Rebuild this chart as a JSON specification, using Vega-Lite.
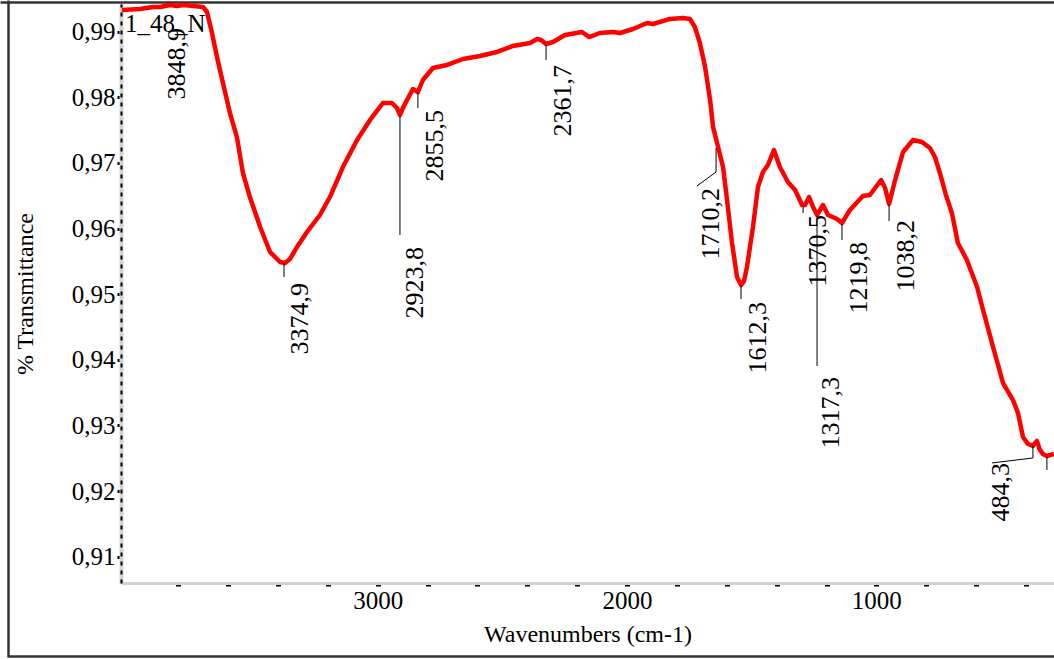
{
  "$schema": "https://vega.github.io/schema/vega-lite/v6.json",
  "width": 933,
  "height": 579,
  "autosize": {"type": "none"},
  "padding": {"left": 121, "top": 4, "right": 0, "bottom": 76},
  "background": "white",
  "config": {
    "font": "Liberation Serif",
    "view": {"stroke": null},
    "axis": {"grid": false, "labelColor": "black", "titleColor": "black", "titleFontWeight": "normal", "labelFont": "Liberation Serif", "titleFont": "Liberation Serif"},
    "text": {"font": "Liberation Serif"}
  },
  "datasets": {
    "spectrum": [
      {"wn": 4026, "t": 0.99331}, {"wn": 3954, "t": 0.99346}, {"wn": 3902, "t": 0.99376}, {"wn": 3874, "t": 0.99376},
      {"wn": 3833, "t": 0.99407}, {"wn": 3805, "t": 0.99391}, {"wn": 3781, "t": 0.99407}, {"wn": 3741, "t": 0.99391},
      {"wn": 3701, "t": 0.99376}, {"wn": 3685, "t": 0.993}, {"wn": 3665, "t": 0.9898}, {"wn": 3645, "t": 0.98614},
      {"wn": 3621, "t": 0.98218}, {"wn": 3593, "t": 0.97761}, {"wn": 3565, "t": 0.97395}, {"wn": 3541, "t": 0.96847},
      {"wn": 3513, "t": 0.96481}, {"wn": 3472, "t": 0.96024}, {"wn": 3432, "t": 0.95643}, {"wn": 3392, "t": 0.95491},
      {"wn": 3372, "t": 0.95476}, {"wn": 3352, "t": 0.95537}, {"wn": 3324, "t": 0.9572}, {"wn": 3284, "t": 0.95948},
      {"wn": 3232, "t": 0.96207}, {"wn": 3192, "t": 0.96481}, {"wn": 3140, "t": 0.96938}, {"wn": 3083, "t": 0.9735},
      {"wn": 3031, "t": 0.97655}, {"wn": 2979, "t": 0.97914}, {"wn": 2943, "t": 0.97914}, {"wn": 2923, "t": 0.97837},
      {"wn": 2911, "t": 0.97731}, {"wn": 2899, "t": 0.97837}, {"wn": 2883, "t": 0.97959}, {"wn": 2859, "t": 0.98127},
      {"wn": 2839, "t": 0.98081}, {"wn": 2819, "t": 0.98264}, {"wn": 2779, "t": 0.98447}, {"wn": 2722, "t": 0.98493},
      {"wn": 2658, "t": 0.98584}, {"wn": 2590, "t": 0.9863}, {"wn": 2522, "t": 0.98691}, {"wn": 2458, "t": 0.98783},
      {"wn": 2389, "t": 0.98828}, {"wn": 2361, "t": 0.98889}, {"wn": 2345, "t": 0.98874}, {"wn": 2325, "t": 0.98813},
      {"wn": 2297, "t": 0.98843}, {"wn": 2249, "t": 0.9895}, {"wn": 2181, "t": 0.98995}, {"wn": 2153, "t": 0.98919},
      {"wn": 2109, "t": 0.9898}, {"wn": 2056, "t": 0.98995}, {"wn": 2028, "t": 0.9898}, {"wn": 1976, "t": 0.99041},
      {"wn": 1920, "t": 0.99133}, {"wn": 1896, "t": 0.99117}, {"wn": 1828, "t": 0.99194}, {"wn": 1776, "t": 0.99209},
      {"wn": 1748, "t": 0.99194}, {"wn": 1728, "t": 0.99072}, {"wn": 1708, "t": 0.98828}, {"wn": 1687, "t": 0.98462},
      {"wn": 1667, "t": 0.97959}, {"wn": 1655, "t": 0.97548}, {"wn": 1639, "t": 0.97304}, {"wn": 1627, "t": 0.97121},
      {"wn": 1615, "t": 0.96938}, {"wn": 1599, "t": 0.96435}, {"wn": 1579, "t": 0.9578}, {"wn": 1559, "t": 0.95262},
      {"wn": 1543, "t": 0.9514}, {"wn": 1531, "t": 0.95201}, {"wn": 1519, "t": 0.95415}, {"wn": 1495, "t": 0.96024},
      {"wn": 1475, "t": 0.96634}, {"wn": 1455, "t": 0.96862}, {"wn": 1435, "t": 0.96969}, {"wn": 1411, "t": 0.97197},
      {"wn": 1387, "t": 0.96938}, {"wn": 1355, "t": 0.9671}, {"wn": 1326, "t": 0.96588}, {"wn": 1298, "t": 0.96359},
      {"wn": 1286, "t": 0.96359}, {"wn": 1270, "t": 0.96481}, {"wn": 1254, "t": 0.96329}, {"wn": 1238, "t": 0.96207},
      {"wn": 1226, "t": 0.96283}, {"wn": 1214, "t": 0.96359}, {"wn": 1194, "t": 0.96207}, {"wn": 1158, "t": 0.96146},
      {"wn": 1138, "t": 0.96085}, {"wn": 1106, "t": 0.96283}, {"wn": 1054, "t": 0.96496}, {"wn": 1026, "t": 0.96512},
      {"wn": 981, "t": 0.9674}, {"wn": 965, "t": 0.96618}, {"wn": 949, "t": 0.96374}, {"wn": 925, "t": 0.9674},
      {"wn": 893, "t": 0.97167}, {"wn": 853, "t": 0.9735}, {"wn": 817, "t": 0.97319}, {"wn": 785, "t": 0.97228},
      {"wn": 765, "t": 0.97091}, {"wn": 745, "t": 0.96847}, {"wn": 721, "t": 0.96512}, {"wn": 697, "t": 0.96237},
      {"wn": 673, "t": 0.9578}, {"wn": 637, "t": 0.95521}, {"wn": 596, "t": 0.9511}, {"wn": 572, "t": 0.94759},
      {"wn": 532, "t": 0.94196}, {"wn": 492, "t": 0.93647}, {"wn": 452, "t": 0.93388}, {"wn": 432, "t": 0.9319},
      {"wn": 412, "t": 0.92824}, {"wn": 392, "t": 0.92718}, {"wn": 372, "t": 0.92688}, {"wn": 356, "t": 0.92764},
      {"wn": 344, "t": 0.92627}, {"wn": 332, "t": 0.92566}, {"wn": 316, "t": 0.92535}, {"wn": 288, "t": 0.92566}
    ],
    "leaders": [
      {"wn": 3376, "wn2": 3376, "t": 0.95476, "t2": 0.95262},
      {"wn": 2911, "wn2": 2911, "t": 0.97715, "t2": 0.95902},
      {"wn": 2839, "wn2": 2839, "t": 0.98066, "t2": 0.97837},
      {"wn": 2325, "wn2": 2325, "t": 0.98797, "t2": 0.98569},
      {"wn": 1643, "wn2": 1643, "t": 0.97228, "t2": 0.96862},
      {"wn": 1643, "wn2": 1720, "t": 0.96862, "t2": 0.96649},
      {"wn": 1543, "wn2": 1543, "t": 0.95125, "t2": 0.94927},
      {"wn": 1294, "wn2": 1294, "t": 0.96329, "t2": 0.96238},
      {"wn": 1238, "wn2": 1238, "t": 0.96192, "t2": 0.93906},
      {"wn": 1138, "wn2": 1138, "t": 0.9607, "t2": 0.95826},
      {"wn": 949, "wn2": 949, "t": 0.96359, "t2": 0.96115},
      {"wn": 372, "wn2": 372, "t": 0.92688, "t2": 0.92505},
      {"wn": 372, "wn2": 536, "t": 0.92505, "t2": 0.92429},
      {"wn": 316, "wn2": 316, "t": 0.9252, "t2": 0.92322}
    ],
    "peaks": [
      {"wn": 3805, "t": 0.99056, "label": "3848,9"},
      {"wn": 3312, "t": 0.95171, "label": "3374,9"},
      {"wn": 2851, "t": 0.95719, "label": "2923,8"},
      {"wn": 2770, "t": 0.97807, "label": "2855,5"},
      {"wn": 2257, "t": 0.98493, "label": "2361,7"},
      {"wn": 1663, "t": 0.96618, "label": "1710,2"},
      {"wn": 1475, "t": 0.94881, "label": "1612,3"},
      {"wn": 1234, "t": 0.96207, "label": "1370,5"},
      {"wn": 1182, "t": 0.93738, "label": "1317,3"},
      {"wn": 1070, "t": 0.95795, "label": "1219,8"},
      {"wn": 881, "t": 0.9613, "label": "1038,2"},
      {"wn": 500, "t": 0.92429, "label": "484,3"}
    ],
    "sample": [{"wn": 4014, "t": 0.98995, "label": "1_48_N"}],
    "frame": [{"a": 0, "b": 0}, {"a": 1, "b": 1}]
  },
  "resolve": {"scale": {"x": "independent", "y": "independent"}, "axis": {"x": "independent", "y": "independent"}},
  "layer": [
    {
      "resolve": {"axis": {"x": "independent", "y": "independent"}},
      "layer": [
        {
          "data": {"name": "spectrum"},
          "mark": {"type": "line", "color": "#ff0000", "strokeWidth": 4.5, "strokeJoin": "round"},
          "encoding": {
            "x": {"field": "wn", "type": "quantitative", "scale": {"domain": [287.5, 4030], "reverse": true, "nice": false, "zero": false},
              "axis": {"orient": "bottom", "values": [400, 600, 800, 1000, 1200, 1400, 1600, 1800, 2000, 2200, 2400, 2600, 2800, 3000, 3200, 3400, 3600, 3800],
                "labelExpr": "datum.value % 1000 === 0 ? format(datum.value, 'd') : ''",
                "labelFont": "Liberation Serif", "labelFontSize": 25, "labelPadding": 2, "labelFlush": false, "labelOverlap": false,
                "domainColor": "#d3d3d3", "domainWidth": 3,
                "tickColor": "black", "tickSize": 3, "tickWidth": 5,
                "title": "Wavenumbers (cm-1)", "titleFont": "Liberation Serif", "titleFontSize": 24, "titleFontWeight": "normal", "titlePadding": 9}},
            "y": {"field": "t", "type": "quantitative", "scale": {"domain": [0.906, 0.99422], "nice": false, "zero": false},
              "axis": {"orient": "left", "values": [0.91, 0.92, 0.93, 0.94, 0.95, 0.96, 0.97, 0.98, 0.99],
                "labelExpr": "replace(format(datum.value, '.2f'), '.', ',')",
                "labelFont": "Liberation Serif", "labelFontSize": 25, "labelPadding": 2, "labelFlush": false, "labelOverlap": false,
                "domainColor": "#d3d3d3", "domainWidth": 4,
                "tickColor": "black", "tickSize": 4, "tickWidth": 3,
                "title": "% Transmittance", "titleFont": "Liberation Serif", "titleFontSize": 24, "titleFontWeight": "normal", "titlePadding": 34}}
          }
        },
        {
          "data": {"name": "leaders"},
          "mark": {"type": "rule", "color": "black", "strokeWidth": 1},
          "encoding": {
            "x": {"field": "wn", "type": "quantitative", "axis": null},
            "x2": {"field": "wn2"},
            "y": {"field": "t", "type": "quantitative", "axis": null},
            "y2": {"field": "t2"}
          }
        },
        {
          "data": {"name": "peaks"},
          "mark": {"type": "text", "angle": 270, "align": "right", "baseline": "middle", "fontSize": 26, "color": "black", "font": "Liberation Serif"},
          "encoding": {
            "x": {"field": "wn", "type": "quantitative", "axis": null},
            "y": {"field": "t", "type": "quantitative", "axis": null},
            "text": {"field": "label"}
          }
        },
        {
          "data": {"name": "sample"},
          "mark": {"type": "text", "align": "left", "baseline": "alphabetic", "fontSize": 25, "color": "black", "font": "Liberation Serif"},
          "encoding": {
            "x": {"field": "wn", "type": "quantitative", "axis": null},
            "y": {"field": "t", "type": "quantitative", "axis": null},
            "text": {"field": "label"}
          }
        },
        {
          "data": {"name": "spectrum"},
          "mark": {"type": "line", "opacity": 0},
          "encoding": {
            "x": {"field": "wn", "type": "quantitative", "axis": null},
            "y": {"field": "t", "type": "quantitative", "axis": {"orient": "left", "domainColor": "black", "domainWidth": 2, "domainDash": [4, 5], "ticks": false, "labels": false, "title": null}}
          }
        }
      ]
    },
    {
      "data": {"name": "frame"},
      "mark": {"type": "line", "opacity": 0},
      "encoding": {
        "x": {"field": "a", "type": "quantitative", "scale": {"domain": [0, 1], "range": [-113, 933], "nice": false, "zero": false},
          "axis": {"orient": "bottom", "offset": 73, "domainColor": "#333333", "domainWidth": 2.5, "ticks": false, "labels": false, "title": null}},
        "y": {"field": "b", "type": "quantitative", "scale": {"domain": [0, 1], "range": [653, -4], "nice": false, "zero": false},
          "axis": {"orient": "left", "offset": 113, "domainColor": "#333333", "domainWidth": 2.5, "ticks": false, "labels": false, "title": null}}
      }
    },
    {
      "data": {"name": "frame"},
      "mark": {"type": "line", "opacity": 0},
      "encoding": {
        "x": {"field": "a", "type": "quantitative", "scale": {"domain": [0, 1], "range": [-121, 933], "nice": false, "zero": false},
          "axis": {"orient": "top", "offset": 2, "domainColor": "#333333", "domainWidth": 2.5, "ticks": false, "labels": false, "title": null}},
        "y": {"field": "b", "type": "quantitative", "axis": null}
      }
    }
  ]
}
